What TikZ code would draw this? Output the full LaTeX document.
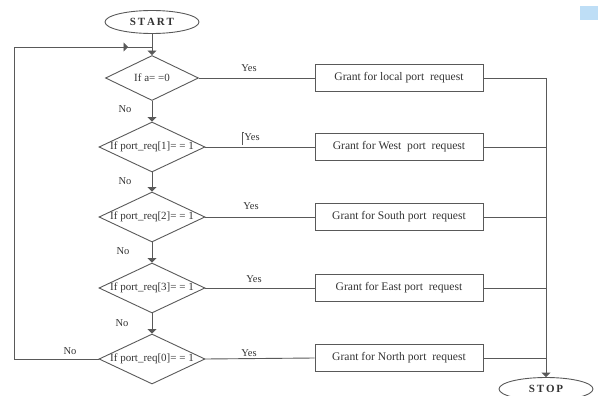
\documentclass[tikz,border=0pt]{standalone}
\usepackage{fontspec}
\setmainfont{Liberation Serif}
\usetikzlibrary{shapes.geometric,arrows.meta}
\definecolor{ln}{gray}{0.35}
\definecolor{tx}{gray}{0.2}
\definecolor{lblue}{RGB}{190,222,246}
\tikzset{
  flow/.style={draw=ln, line width=0.9pt},
  arr/.style={flow, -{Triangle[width=9pt,length=4.5pt]}},
  decision/.style={diamond, draw=ln, line width=0.9pt, inner sep=0pt, minimum width=106pt, minimum height=50pt, text=tx, font=\fontsize{11}{12}\selectfont},
  grant/.style={rectangle, draw=ln, line width=0.9pt, minimum width=168pt, minimum height=27pt, inner sep=0pt, text=tx, font=\fontsize{11.6}{12}\selectfont},
  terminal/.style={ellipse, draw=ln, line width=0.9pt, minimum width=94pt, minimum height=23pt, inner sep=0pt, text=tx, font=\bfseries\fontsize{11}{12}\selectfont},
  lbl/.style={text=tx, font=\fontsize{10.5}{12}\selectfont, inner sep=0pt}
}
\begin{document}
\begin{tikzpicture}[x=1pt,y=-1pt]
\useasboundingbox (0,0) rectangle (600,396);
\fill[lblue] (580,6) rectangle (598,20);

\node[terminal] (start) at (152,22) {S\,T\,A\,R\,T};
\node[decision, minimum width=93pt, minimum height=45pt] (d1) at (152,78) {\makebox[0pt]{If a= =0}};
\node[decision] (d2) at (152,147) {\makebox[0pt]{If port\_req[1]= = 1}};
\node[decision] (d3) at (152,217) {\makebox[0pt]{If port\_req[2]= = 1}};
\node[decision] (d4) at (152,288) {\makebox[0pt]{If port\_req[3]= = 1}};
\node[decision] (d5) at (152,359) {\makebox[0pt]{If port\_req[0]= = 1}};

\node[grant] (g1) at (399,78) {Grant for local port \ request};
\node[grant] (g2) at (399,147) {Grant for West \ port \ request};
\node[grant] (g3) at (399,217) {Grant for South port \ request};
\node[grant] (g4) at (399,288) {Grant for East port \ request};
\node[grant] (g5) at (399,358) {Grant for North port \ request};

\node[terminal] (stop) at (546,389) {S\,T\,O\,P};

\coordinate (j) at (152,47);
\coordinate (la) at (14,359);
\coordinate (lb) at (14,47);
\coordinate (lc) at (128,47);
\coordinate (r1) at (546,78);
\coordinate (r2) at (546,147);
\coordinate (r3) at (546,217);
\coordinate (r4) at (546,288);
\coordinate (r5) at (546,358);

% main flow
\draw[flow] (start.south) -- (j);
\draw[arr] (j) -- (d1.north);
\draw[arr] (d1.south) -- (d2.north);
\draw[arr] (d2.south) -- (d3.north);
\draw[arr] (d3.south) -- (d4.north);
\draw[arr] (d4.south) -- (d5.north);

% loop back
\draw[flow] (d5.west) -- (la) -- (lb) -- (lc);
\draw[arr] (lb) -- (lc);
\draw[flow] (lc) -- (j);

% yes branches
\draw[flow] (d1.east) -- (g1.west);
\draw[flow] (d2.east) -- (g2.west);
\draw[flow] (d3.east) -- (g3.west);
\draw[flow] (d4.east) -- (g4.west);
\draw[flow] (d5.east) -- (g5.west);
\draw[flow] (g1.east) -- (r1);
\draw[flow] (g2.east) -- (r2);
\draw[flow] (g3.east) -- (r3);
\draw[flow] (g4.east) -- (r4);
\draw[flow] (g5.east) -- (r5);
\draw[arr] (r1) -- (stop.north);

% labels
\node[lbl] (y1) at (249,68) {Yes};
\node[lbl] (y2) at (252,137) {Yes};
\draw[ln, line width=0.6pt] (242,145) -- (242,132) -- (244,132);
\node[lbl] (y3) at (251,206) {Yes};
\node[lbl] (y4) at (254,279) {Yes};
\node[lbl] (y5) at (249,353) {Yes};
\node[lbl] (n1) at (125,109) {No};
\node[lbl] (n2) at (125,181) {No};
\node[lbl] (n3) at (123,251) {No};
\node[lbl] (n4) at (122,323) {No};
\node[lbl] (n5) at (70,351) {No};
\end{tikzpicture}
\end{document}
